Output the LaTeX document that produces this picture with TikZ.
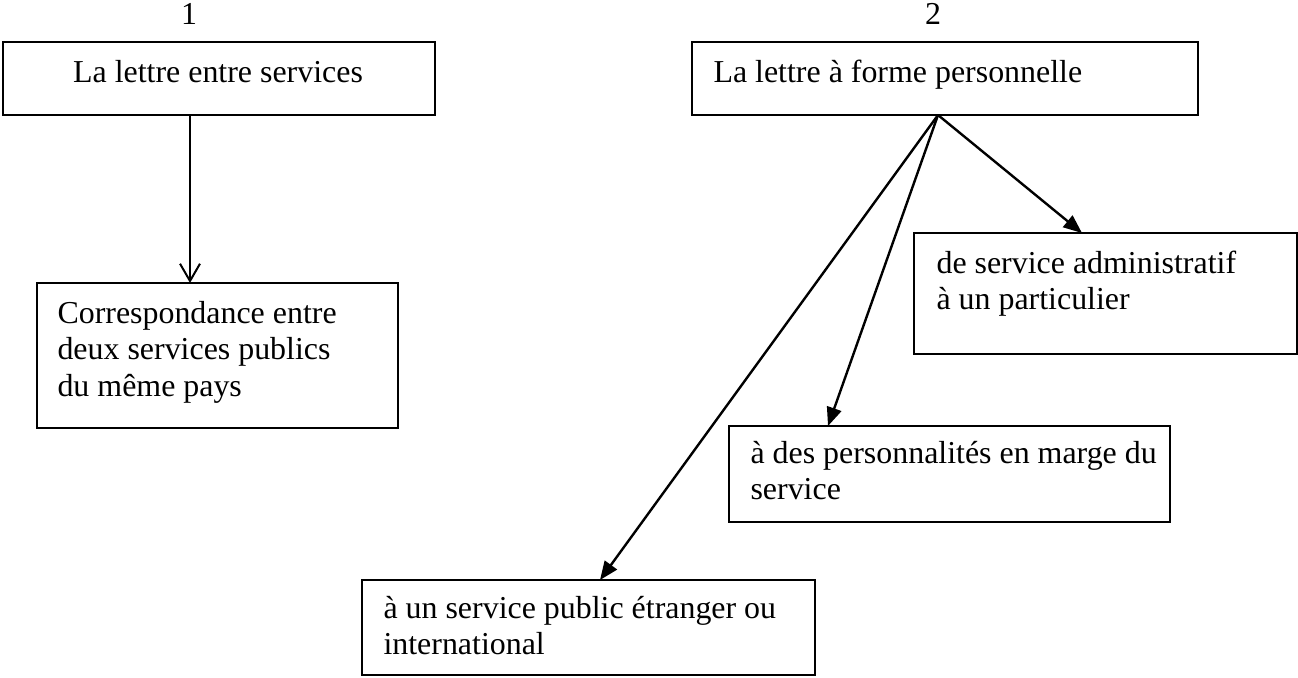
\documentclass[tikz,border=0pt]{standalone}
\usepackage{fontspec}
\setmainfont{Liberation Serif}
\usetikzlibrary{arrows.meta,calc,positioning,fit}
\tikzset{
  % Boîtes et textes
  boite/.style={draw,rectangle,inner sep=0pt,line width=0.75pt},
  texte/.style={inner sep=0pt,anchor=base west,align=flush left,text width=150mm,font=\fontsize{12}{13.8}\selectfont},
  numero/.style={inner sep=0pt,anchor=base,font=\fontsize{12}{13.8}\selectfont},
  % Flèches
  fleche/.style={-{Triangle[length=7pt,width=5.6pt]},line width=0.9pt},
  ouverte/.style={-{Straight Barb[length=6.5pt,width=7.5pt]},line width=0.75pt},
}

\begin{document}
\begin{tikzpicture}[x=0.376pt,y=-0.376pt]
  \useasboundingbox (0,0) rectangle (1298,677);
  \node[numero] (n1) at (189,24) {1};
  \node[numero] (n2) at (933,24) {2};

  \node[boite,fit={(3,42) (435,115)}] (b1) {};
  \node[numero] (t1) at (218,82) {La lettre entre services};
  \node[boite,fit={(692,42) (1198,115)}] (b2) {};
  \node[texte] (t2) at (713,82) {La lettre à forme personnelle};

  \node[boite,fit={(37,283) (398,428)}] (b3) {};
  \node[texte] (t3) at (57,323) {Correspondance entre\\deux services publics\\du même pays};
  \node[boite,fit={(914,233) (1297,354)}] (b4) {};
  \node[texte] (t4) at (936,273) {de service administratif\\à un particulier};
  \node[boite,fit={(729,426) (1170,522)}] (b5) {};
  \node[texte] (t5) at (750,463) {à des personnalités en marge du\\service};
  \node[boite,fit={(362,580) (815,675)}] (b6) {};
  \node[texte] (t6) at (383,618) {à un service public étranger ou\\international};

  % Points d'attache
  \coordinate (d1) at (190,115);
  \coordinate (a3) at (190,283);
  \coordinate (d2) at (938,115);
  \coordinate (a4) at (1082,233);
  \coordinate (a5) at (828,426);
  \coordinate (a6) at (600,580);

  \draw[ouverte] (d1) -- (a3);
  \draw[fleche] (d2) -- (a4);
  \draw[fleche] (d2) -- (a5);
  \draw[fleche] (d2) -- (a6);
\end{tikzpicture}
\end{document}
